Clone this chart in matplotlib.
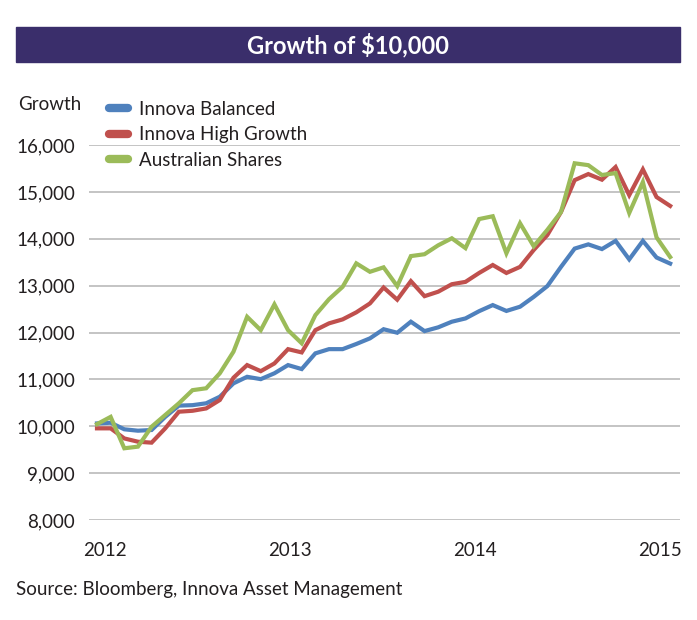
import matplotlib
matplotlib.use("Agg")
import matplotlib.pyplot as plt
from matplotlib.lines import Line2D
from matplotlib.patches import Rectangle

plt.rcParams['font.family'] = ['Lato', 'DejaVu Sans']

# monthly-ish points
balanced = [10060, 10075, 9935, 9905, 9920, 10200, 10440, 10450, 10490, 10630,
            10915, 11055, 11005, 11130, 11305, 11220, 11555, 11645, 11645, 11755,
            11875, 12070, 11995, 12230, 12030, 12110, 12230, 12300, 12455, 12585,
            12460, 12550, 12760, 12990, 13400, 13790, 13880, 13780, 13955, 13560,
            13955, 13600, 13470]
high_growth = [9955, 9955, 9740, 9670, 9650, 9955, 10310, 10330, 10380, 10560,
               11035, 11305, 11175, 11340, 11645, 11575, 12050, 12195, 12280, 12430,
               12620, 12960, 12700, 13095, 12775, 12870, 13030, 13080, 13270, 13440,
               13270, 13400, 13760, 14080, 14570, 15250, 15380, 15260, 15530, 14930,
               15480, 14890, 14700]
aus_shares = [10045, 10200, 9530, 9565, 9990, 10240, 10490, 10770, 10810, 11130,
              11590, 12335, 12050, 12600, 12050, 11770, 12370, 12710, 12975, 13475,
              13295, 13390, 12990, 13630, 13670, 13860, 14010, 13800, 14420, 14480,
              13690, 14330, 13840, 14190, 14570, 15610, 15570, 15360, 15400, 14550,
              15210, 14030, 13610]

series_names = ['Innova Balanced', 'Innova High Growth', 'Australian Shares']
colors = ['#4f81bd', '#c0504d', '#9bbb59']

year_labels = ['2012', '2013', '2014', '2015']
year_pos = [0.6, 14.15, 27.7, 41.25]
y_ticks = [8000, 9000, 10000, 11000, 12000, 13000, 14000, 15000, 16000]

txt = '#231f20'
fs = 13.5

fig = plt.figure(figsize=(6.97, 6.2), dpi=100)

# title banner
fig.patches.append(Rectangle((16 / 697, 1 - 62 / 620), 664 / 697, 35 / 620,
                             transform=fig.transFigure, color='#3a2e6b', zorder=0))
fig.text(348 / 697, 1 - 45 / 620, 'Growth of $10,000', color='white',
         fontsize=17, fontweight='bold', ha='center', va='center')

ax = fig.add_axes([89 / 697, 1 - 520 / 620, 591 / 697, 375 / 620])
x = range(len(balanced))
for vals, name, c in zip([balanced, high_growth, aus_shares], series_names, colors):
    ax.plot(x, vals, color=c, lw=3, label=name, solid_joinstyle='miter', zorder=3)

ax.set_xlim(-0.586, 42.72)
ax.set_ylim(8000, 16000)
ax.set_yticks(y_ticks)
ax.set_yticklabels([f'{v:,}' for v in y_ticks])
ax.set_xticks(year_pos)
ax.set_xticklabels(year_labels)
ax.tick_params(axis='y', length=0, pad=10, labelsize=fs, labelcolor=txt)
ax.tick_params(axis='x', length=0, pad=16, labelsize=fs, labelcolor=txt)
ax.grid(axis='y', color='#bfbfbf', lw=1.3)
ax.set_axisbelow(True)
for s in ax.spines.values():
    s.set_visible(False)

fig.text(18 / 697, 1 - 105 / 620, 'Growth', fontsize=fs, color=txt, va='center')

handles = [Line2D([], [], color=c, lw=6, solid_capstyle='round') for c in colors]
fig.legend(handles, series_names, loc='upper left',
           bbox_to_anchor=(109 / 697, 1 - 101 / 620), frameon=False,
           fontsize=fs, handlelength=1.0, handletextpad=0.6,
           labelspacing=0.45, borderpad=0, borderaxespad=0, labelcolor=txt)

fig.text(16 / 697, 1 - 589 / 620, 'Source: Bloomberg, Innova Asset Management',
         fontsize=fs, color=txt, va='center')

fig.savefig('out.png', dpi=100)
